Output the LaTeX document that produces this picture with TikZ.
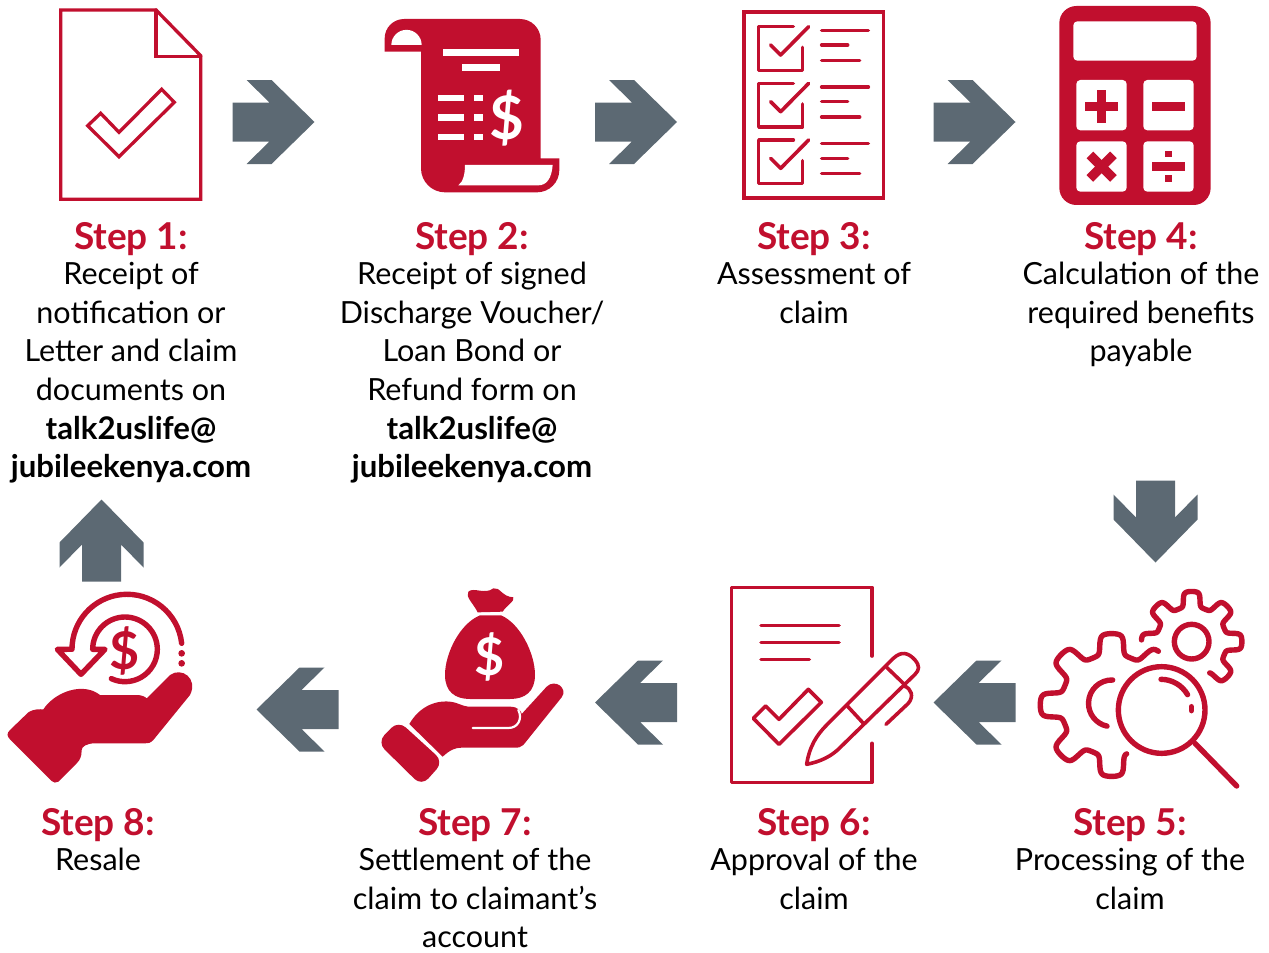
\documentclass[tikz,border=0pt]{standalone}
\usepackage{fontspec}
\setmainfont{Lato}
\usetikzlibrary{positioning}
\definecolor{jubred}{HTML}{C10F2E}
\definecolor{jubgrey}{HTML}{5C6973}

\begin{document}
\begin{tikzpicture}[x=1pt,y=-1pt,
	steptext/.style={anchor=north,align=center,inner sep=0pt,font=\fontsize{30.5}{38.7}\selectfont},
	iconline/.style={draw=jubred,line width=3.6pt,line cap=round,line join=round},
	iconfat/.style={draw=jubred,line width=5.4pt,line cap=round,line join=round},
	iconfill/.style={fill=jubred},
	iconhole/.style={fill=white},
	dollar/.style={text=white,inner sep=0pt,font=\bfseries\fontsize{#1}{#1}\selectfont},
	flowarrow/.pic={
		\fill[jubgrey] (-41,-19.5)--(-4,-19.5)--(-27,-42)--(-2,-42)--(41,0)--(-2,42)--(-27,42)--(-4,19.5)--(-41,19.5)--cycle;
	}]
	\newcommand{\steptitle}[1]{\raisebox{-3.5pt}{\bfseries\color{jubred}\fontsize{37}{38.7}\selectfont #1}}
	\newcommand{\stepmail}[1]{{\bfseries\fontsize{31.2}{38.7}\selectfont #1}}

	\useasboundingbox (0,0) rectangle (1269,953);

	\pic at (273.5,122) {flowarrow};
	\pic at (636,122) {flowarrow};
	\pic at (974.5,122) {flowarrow};
	\pic[rotate=-90] at (1155.5,521.5) {flowarrow};
	\pic[rotate=180] at (974.5,702.5) {flowarrow};
	\pic[rotate=180] at (636,702.5) {flowarrow};
	\pic[rotate=180] at (297.5,709.5) {flowarrow};
	\pic[rotate=90] at (101.5,540.5) {flowarrow};

	\node [steptext] (s1) at (131,222) {\steptitle{Step 1:}\\Receipt of\\notification or\\Letter and claim\\documents on\\\stepmail{talk2uslife@}\\\stepmail{jubileekenya.com}};
	\node [steptext] (s2) at (472,222) {\steptitle{Step 2:}\\Receipt of signed\\Discharge Voucher/\\Loan Bond or\\Refund form on\\\stepmail{talk2uslife@}\\\stepmail{jubileekenya.com}};
	\node [steptext] (s3) at (814,222) {\steptitle{Step 3:}\\Assessment of\\claim};
	\node [steptext] (s4) at (1141,222) {\steptitle{Step 4:}\\Calculation of the\\required benefits\\payable};
	\node [steptext] (s5) at (1130,808) {\steptitle{Step 5:}\\Processing of the\\claim};
	\node [steptext] (s6) at (814,808) {\steptitle{Step 6:}\\Approval of the\\claim};
	\node [steptext] (s7) at (475,808) {\steptitle{Step 7:}\\Settlement of the\\claim to claimant’s\\account};
	\node [steptext] (s8) at (98,808) {\steptitle{Step 8:}\\Resale};

	\draw[iconline,line width=3.3pt,line join=miter] (60.7,10)--(156,10)--(200.7,55.7)--(200.7,199.3)--(60.7,199.3)--cycle;
	\draw[iconline,line width=3.3pt,line join=miter] (156,10)--(156,56.7)--(200.7,56.7);
	\draw[iconline,line width=3.3pt,line join=miter] (87.7,125.7)--(100.7,113.3)--(119,132.3)--(161.7,89.3)--(174.3,102.3)--(119,156.7)--cycle;

	\begin{scope}[shift={(370,0)},scale=1/3]
		\fill[iconfill] (44,155)--(44,115) arc[start angle=180,end angle=270,radius=58]--(450,57) arc[start angle=270,end angle=360,radius=62]--(512,475)--(568,475)--(568,510) arc[start angle=0,end angle=90,radius=67]--(225,577) arc[start angle=90,end angle=180,radius=72]--(153,155)--cycle;
		\fill[iconhole] (64,135) arc[start angle=180,end angle=360,radius=45.5]--cycle;
		\fill[iconhole] (285,495)--(548,495) .. controls (545,535) and (530,556) .. (505,556)--(265,556) .. controls (280,545) and (285,520) .. (285,495)--cycle;
		\fill[iconhole] (220,148) rectangle (446,167);
		\fill[iconhole] (275,193) rectangle (391,214);
		\foreach \y in {285,343,402} {
			\fill[iconhole] (204,\y) rectangle (283,\y+19);
			\fill[iconhole] (311,\y) rectangle (340,\y+19);
		}
		\node [dollar=60] (d2) at (410,353) {\$};
	\end{scope}

	\begin{scope}[shift={(730,0)},scale=1/3]
		\draw[iconline,line join=miter] (42,36) rectangle (460,594);
		\foreach \y in {0,170,340} {
			\draw[iconline] (190,80+\y)--(86,80+\y)--(86,211+\y)--(217,211+\y)--(217,142+\y);
			\draw[iconline] (122,135+\y)--(152,165+\y)--(236,80+\y);
			\draw[iconline] (275,91+\y)--(415,91+\y);
			\draw[iconline] (275,135+\y)--(353,135+\y);
			\draw[iconline] (275,181+\y)--(389,181+\y);
		}
		\fill[iconfill,rounded corners=17pt] (988,18) rectangle (1442,615);
		\fill[iconhole,rounded corners=4pt] (1030,64) rectangle (1400,182);
		\foreach \x/\y in {1039/240,1240/240,1039/424,1240/424}
			\fill[iconhole,rounded corners=4pt] (\x,\y) rectangle (\x+151,\y+151);
		\fill[iconfill] (1064,305) rectangle (1165,333);
		\fill[iconfill] (1100,270) rectangle (1129,370);
		\fill[iconfill] (1266,305) rectangle (1365,333);
		\fill[iconfill] (1266,485) rectangle (1365,512);
		\fill[iconfill] (1305,452) rectangle (1326,472);
		\fill[iconfill] (1305,525) rectangle (1326,545);
		\fill[iconfill,rotate around={45:(1115,500)}] (1065,486) rectangle (1165,514);
		\fill[iconfill,rotate around={45:(1115,500)}] (1101,450) rectangle (1129,550);
	\end{scope}

	\begin{scope}[shift={(1030,580)},scale=1/3]
		\draw[iconfat] plot[domain=49:287,samples=240] ({245+(183+33*cos(8*\x)/sqrt(cos(8*\x)^2+0.12))*cos(\x)},{375-(183+33*cos(8*\x)/sqrt(cos(8*\x)^2+0.12))*sin(\x)});
		\draw[iconfat] plot[domain=-60:178,samples=240] ({485+(128+24*cos(8*\x)/sqrt(cos(8*\x)^2+0.12))*cos(\x)},{185-(128+24*cos(8*\x)/sqrt(cos(8*\x)^2+0.12))*sin(\x)});
		\draw[iconfat] (485,185) circle[radius=52];
		\draw[iconfat] (395,390) circle[radius=130];
		\draw[iconfat] (495,490)--(620,618);
		\draw[iconfat] (393,298) arc[start angle=-90,end angle=-30,radius=92];
		\draw[iconfat] (484,380)--(484,392);
		\draw[iconfat] (248,300) arc[start angle=-88,end angle=-258,radius=70];
	\end{scope}

	\begin{scope}[shift={(720,580)},scale=1/3]
		\draw[iconline] (456,228)--(456,22)--(35,22)--(35,607)--(456,607)--(456,490);
		\draw[iconline] (123,137)--(357,137);
		\draw[iconline] (123,188)--(357,188);
		\draw[iconline] (123,238)--(268,238);
		\draw[iconline] (100,415)--(137,378)--(177,418)--(265,328)--(304,367)--(177,493)--cycle;
		\draw[iconline] (260,553) .. controls (268,500) and (290,465) .. (320,435)--(520,235) .. controls (545,212) and (565,218) .. (585,240) .. controls (600,258) and (598,270) .. (585,283)--(365,498) .. controls (335,530) and (300,545) .. (260,553)--cycle;
		\draw[iconline] (500,262)--(552,312);
		\draw[iconline] (382,378)--(432,432);
		\draw[iconline] (552,318) .. controls (575,325) and (582,350) .. (565,370)--(498,433);
	\end{scope}

	\begin{scope}[shift={(370,580)},scale=1/3]
		\fill[iconfill] (323,97) .. controls (310,70) and (285,50) .. (295,35) .. controls (310,20) and (345,45) .. (370,25) .. controls (390,20) and (395,50) .. (430,52) .. controls (435,65) and (410,75) .. (398,95)--cycle;
		\fill[iconfill] (330,106)--(393,106) .. controls (450,130) and (495,220) .. (495,285) .. controls (495,335) and (465,357) .. (420,357)--(300,357) .. controls (255,357) and (225,335) .. (225,285) .. controls (225,220) and (270,130) .. (330,106)--cycle;
		\node [dollar=52] (d7) at (360,230) {\$};
		\fill[iconfill] (118,432) .. controls (145,385) and (190,360) .. (240,365) .. controls (265,368) and (275,378) .. (295,380)--(420,380) .. controls (445,380) and (455,395) .. (455,402)--(530,320) .. controls (555,295) and (595,325) .. (575,352)--(460,495) .. controls (452,503) and (445,503) .. (430,503)--(275,503) .. controls (255,503) and (240,510) .. (218,530)--cycle;
		\draw[white,line width=2.2pt,line cap=round] (308,444)--(415,444) .. controls (445,444) and (458,415) .. (445,390);
		\fill[iconfill,rounded corners=10pt] (22,487)--(85,422)--(220,545)--(155,618)--cycle;
	\end{scope}

	\begin{scope}[shift={(0,580)},scale=1/3]
		\fill[iconfill] (30,478) .. controls (20,468) and (20,460) .. (30,450)--(85,397) .. controls (105,385) and (120,388) .. (130,388) .. controls (165,335) and (250,305) .. (300,345)--(410,345) .. controls (425,345) and (435,350) .. (440,355)--(510,285) .. controls (545,260) and (595,295) .. (570,345)--(460,480) .. controls (450,490) and (445,490) .. (435,490)--(285,490) .. controls (260,490) and (245,500) .. (245,510) .. controls (245,530) and (240,540) .. (230,550)--(175,605) .. controls (168,610) and (160,608) .. (155,603)--cycle;
		\draw[iconfat] (545,190) arc[start angle=-6.2,end angle=-180,radius=165]--(172,208)--(243,283)--(315,208)--(278,208) arc[start angle=-180,end angle=115,radius=97];
		\fill[iconfill] (545,220) circle[radius=10];
		\fill[iconfill] (545,250) circle[radius=10];
		\node [dollar=52,text=jubred] (d8) at (375,212) {\$};
	\end{scope}
\end{tikzpicture}
\end{document}
